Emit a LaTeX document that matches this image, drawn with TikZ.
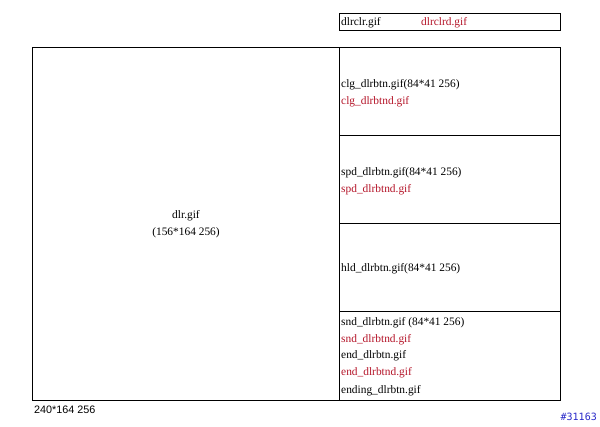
\documentclass[tikz,border=0pt]{standalone}
\usepackage{fontspec}
\setmainfont{Liberation Serif}
\newfontfamily\arialf{Liberation Sans}
\newfontfamily\monof{DejaVu Sans Mono}
\definecolor{redtxt}{RGB}{180,20,40}
\definecolor{bluetxt}{RGB}{40,40,200}
\begin{document}
\begin{tikzpicture}[x=1pt,y=-1pt,
  lbl/.style={anchor=west,inner sep=0pt,font=\fontsize{11.4}{12}\selectfont},
  rlbl/.style={lbl,text=redtxt},
  box/.style={draw=black,line width=0.8pt}]
\useasboundingbox (0,0) rectangle (600,426);
\draw[box] (339,13) rectangle (560,30);
\draw[box] (32,47) rectangle (560,400);
\draw[box] (339,47) -- (339,400);
\draw[box] (339,135) -- (560,135);
\draw[box] (339,223) -- (560,223);
\draw[box] (339,311) -- (560,311);
\node[lbl] (t1) at (341,23) {dlrclr.gif};
\node[rlbl] (t2) at (421,23) {dlrclrd.gif};
\node[font=\fontsize{11.4}{12}\selectfont,inner sep=0pt] (m1) at (186,216) {dlr.gif};
\node[font=\fontsize{11.4}{12}\selectfont,inner sep=0pt] (m2) at (186,233) {(156*164 256)};
\node[lbl] (c1) at (341,85) {clg\_dlrbtn.gif(84*41 256)};
\node[rlbl] (c2) at (341,102) {clg\_dlrbtnd.gif};
\node[lbl] (s1) at (341,173) {spd\_dlrbtn.gif(84*41 256)};
\node[rlbl] (s2) at (341,190) {spd\_dlrbtnd.gif};
\node[lbl] (h1) at (341,269) {hld\_dlrbtn.gif(84*41 256)};
\node[lbl] (n1) at (341,323) {snd\_dlrbtn.gif (84*41 256)};
\node[rlbl] (n2) at (341,340) {snd\_dlrbtnd.gif};
\node[lbl] (n3) at (341,356) {end\_dlrbtn.gif};
\node[rlbl] (n4) at (341,373) {end\_dlrbtnd.gif};
\node[lbl] (n5) at (341,391) {ending\_dlrbtn.gif};
\node[anchor=west,inner sep=0pt,font=\arialf\fontsize{10.8}{12}\selectfont] (d) at (34,410) {240*164 256};
\node[anchor=east,inner sep=0pt,text=bluetxt,font=\monof\fontsize{10}{12}\selectfont] (id) at (597,417) {\#31163};
\end{tikzpicture}
\end{document}
